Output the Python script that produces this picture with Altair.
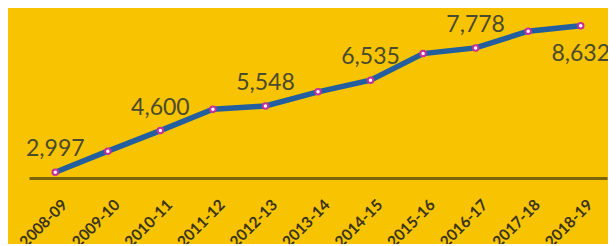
import altair as alt
import pandas as pd

years = ["2008-09", "2009-10", "2010-11", "2011-12", "2012-13", "2013-14",
         "2014-15", "2015-16", "2016-17", "2017-18", "2018-19"]
values = [2997, 3810, 4600, 5420, 5548, 6090, 6535, 7560, 7778, 8420, 8632]
labelled_above = ["2008-09", "2010-11", "2012-13", "2014-15", "2016-17"]
labelled_below = ["2018-19"]

df = pd.DataFrame({"year": years, "value": values})
df["label"] = [f"{v:,}" for v in values]

BG = "#F8C300"

x = alt.X("year:N", sort=years, title=None,
          scale=alt.Scale(type="point", padding=0.5),
          axis=alt.Axis(labelAngle=-45, labelAlign="right", labelBaseline="top",
                        labelPadding=19, labelOffset=4, ticks=False,
                        domainColor="#7A6608", domainWidth=3,
                        labelFont="Lato", labelFontSize=15.5, labelFontWeight="bold",
                        labelColor="#3A3418", grid=False))
y = alt.Y("value:Q", title=None, axis=None,
          scale=alt.Scale(domain=[2778, 9311], zero=False, nice=False))

base = alt.Chart(df).encode(x=x, y=y)

line = base.mark_line(color="#235E9E", strokeWidth=5.5)
points = base.mark_point(filled=True, fill="white", stroke="#C4309C",
                         strokeWidth=2, size=30, opacity=1)
above = base.transform_filter(
    alt.FieldOneOfPredicate(field="year", oneOf=labelled_above)
).mark_text(font="Lato", fontSize=23, color="#4B4A2C", dy=-16,
            baseline="alphabetic").encode(text="label:N")
below = base.transform_filter(
    alt.FieldOneOfPredicate(field="year", oneOf=labelled_below)
).mark_text(font="Lato", fontSize=23, color="#4B4A2C", dy=35,
            baseline="alphabetic").encode(text="label:N")

chart = alt.layer(line, points, above, below).properties(
    width=578, height=170,
    autosize=alt.AutoSizeParams(type="none"),
    padding={"left": 21, "top": 0, "right": 1, "bottom": 66},
    background=BG,
).configure_view(stroke=None)

chart.save("out.html", embed_options={"renderer": "svg", "actions": False})
